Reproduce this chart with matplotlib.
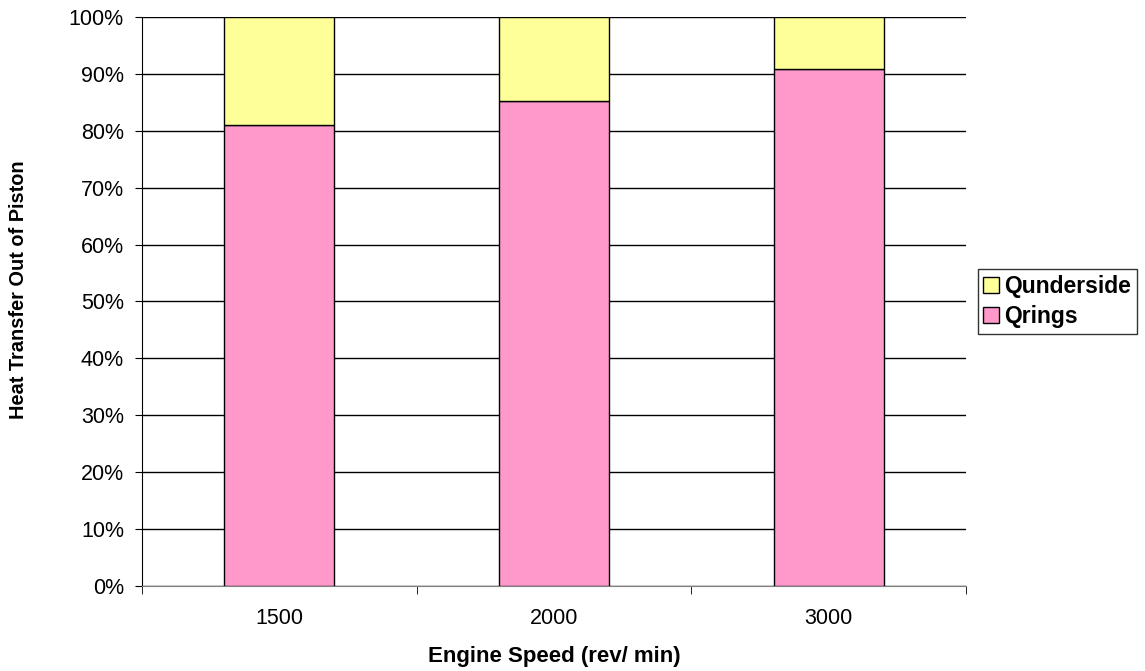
import matplotlib.pyplot as plt
from matplotlib.ticker import FixedLocator, PercentFormatter

plt.rcParams["font.family"] = ["Liberation Sans", "DejaVu Sans"]

speeds = ["1500", "2000", "3000"]
q_rings = [81.0, 85.2, 90.8]
q_underside = [19.0, 14.8, 9.2]

fig = plt.figure(figsize=(11.45, 6.71), dpi=100)
ax = fig.add_axes([0.124, 0.1267, 0.7197, 0.848])

x = range(len(speeds))
ax.bar(x, q_rings, width=0.4, color="#FF99CC", edgecolor="black",
       linewidth=1, label="Qrings", zorder=3)
ax.bar(x, q_underside, width=0.4, bottom=q_rings, color="#FFFF99",
       edgecolor="black", linewidth=1, label="Qunderside", zorder=3)

ax.set_xlim(-0.5, 2.5)
ax.set_ylim(0, 100)
ax.set_yticks(range(0, 101, 10))
ax.yaxis.set_major_formatter(PercentFormatter(decimals=0))
ax.yaxis.grid(True, color="black", linewidth=1)
ax.set_axisbelow(True)

ax.set_xticks(list(x))
ax.set_xticklabels(speeds)
ax.xaxis.set_minor_locator(FixedLocator([-0.5, 0.5, 1.5, 2.5]))
ax.tick_params(axis="x", which="major", length=0, pad=16, labelsize=15.5)
ax.tick_params(axis="x", which="minor", length=6, color="black")
ax.tick_params(axis="y", length=5, labelsize=15.5, pad=8)

for side in ["top", "right"]:
    ax.spines[side].set_visible(False)
ax.spines["bottom"].set_color("#808080")

ax.set_xlabel("Engine Speed (rev/ min)", fontsize=16, fontweight="bold", labelpad=12)
ax.set_ylabel("Heat Transfer Out of Piston", fontsize=14.4, fontweight="bold")
ax.yaxis.set_label_coords(-0.138, 0.52)

handles, labels = ax.get_legend_handles_labels()
leg = ax.legend(handles[::-1], labels[::-1], loc="center left",
                bbox_to_anchor=(1.014, 0.5), frameon=True, fancybox=False,
                edgecolor="black", prop={"weight": "bold", "size": 16.5},
                handlelength=0.7, handleheight=0.7, handletextpad=0.2,
                borderpad=0.25, labelspacing=0.3, borderaxespad=0)
leg.get_frame().set_linewidth(1)

plt.savefig("out.png", dpi=100)
